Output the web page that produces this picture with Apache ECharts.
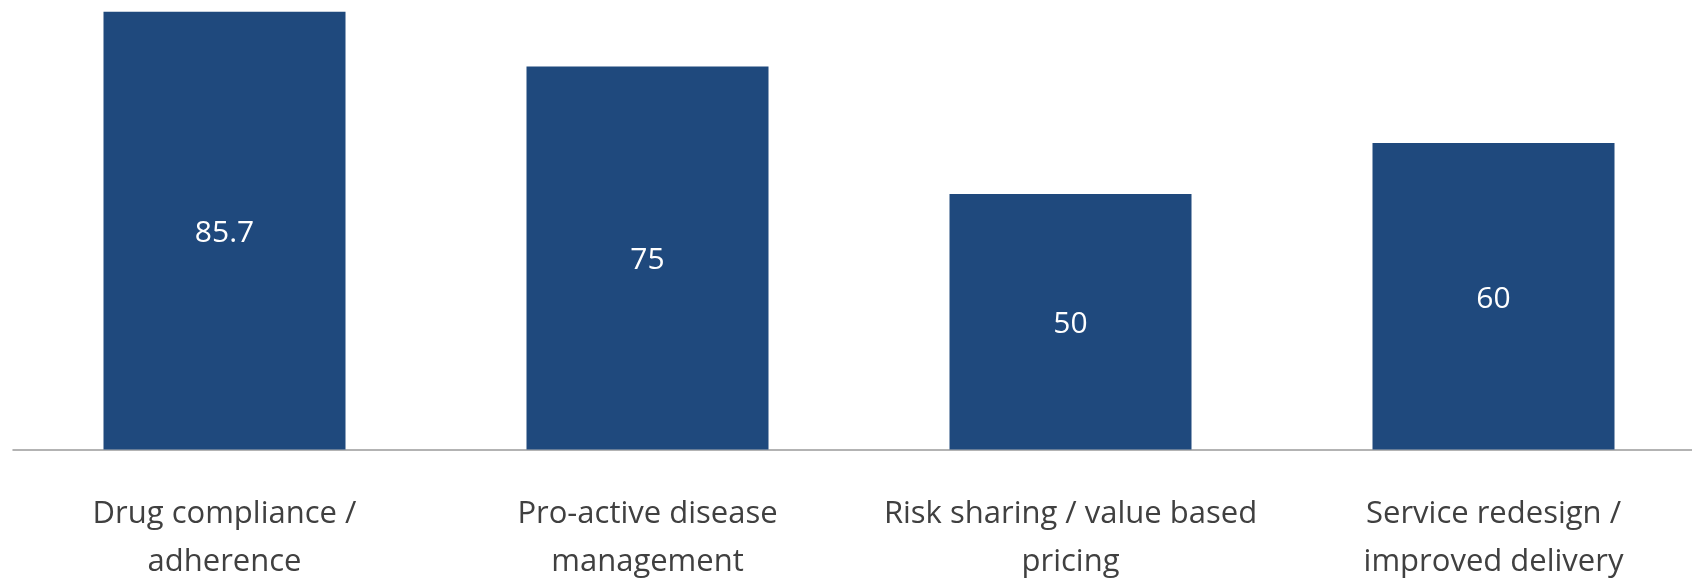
<!DOCTYPE html>
<html>
<head>
<meta charset="utf-8">
<script src="https://cdn.jsdelivr.net/npm/echarts@6/dist/echarts.min.js"></script>
<style>
  html, body { margin: 0; padding: 0; background: #ffffff; }
  #chart { width: 1692px; height: 581px; }
</style>
</head>
<body>
<div id="chart"></div>
<script>
// Category names (two-line labels) and the share for each
const categories = [
  'Drug compliance /\nadherence',
  'Pro-active disease\nmanagement',
  'Risk sharing / value based\npricing',
  'Service redesign /\nimproved delivery'
];
const values = [85.7, 75, 50, 60];

const chart = echarts.init(document.getElementById('chart'), null, { renderer: 'canvas' });

chart.setOption({
  animation: false,
  backgroundColor: '#ffffff',
  grid: {
    left: 13, top: 0, bottom: 131.5, width: 1692,
    containLabel: false,
    outerBoundsMode: 'none'
  },
  xAxis: {
    type: 'category',
    data: categories,
    axisLine: { show: true, lineStyle: { color: '#9a9a9a', width: 1.5 } },
    axisTick: { show: false },
    axisLabel: {
      interval: 0,
      margin: 41,
      color: '#404040',
      fontFamily: 'Open Sans',
      fontSize: 31,
      lineHeight: 48
    }
  },
  yAxis: {
    type: 'value',
    min: 0,
    max: 88,
    show: false,
    splitLine: { show: false }
  },
  series: [{
    type: 'bar',
    data: values,
    barWidth: 242,
    itemStyle: { color: '#1f497d' },
    label: {
      show: true,
      position: 'inside',
      offset: [0, 3],
      color: '#ffffff',
      fontFamily: 'Open Sans',
      fontSize: 30,
      formatter: p => String(p.value)
    }
  }]
});
</script>
</body>
</html>
